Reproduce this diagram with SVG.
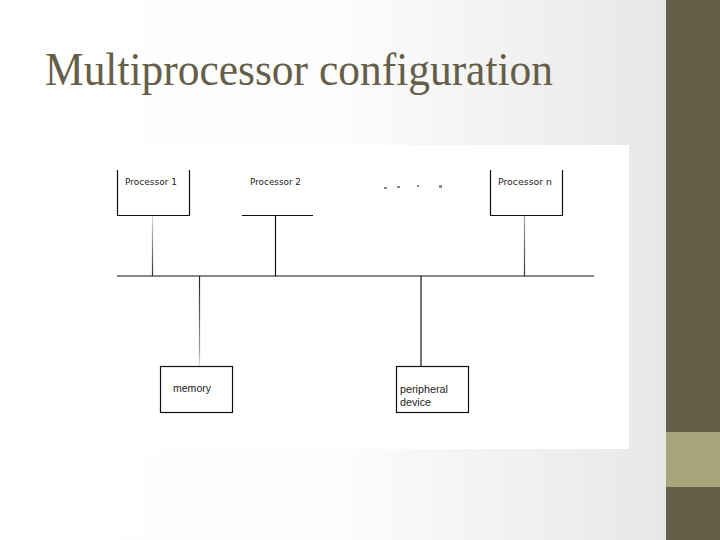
<svg xmlns="http://www.w3.org/2000/svg" width="720" height="540" viewBox="0 0 720 540">
  <defs>
    <linearGradient id="bg" x1="0" y1="0" x2="666" y2="0" gradientUnits="userSpaceOnUse">
      <stop offset="0" stop-color="#ffffff"/>
      <stop offset="0.5" stop-color="#fdfdfd"/>
      <stop offset="1" stop-color="#e7e7e7"/>
    </linearGradient>
    <linearGradient id="fade1" x1="0" y1="215" x2="0" y2="275" gradientUnits="userSpaceOnUse">
      <stop offset="0" stop-color="#dddddd"/>
      <stop offset="1" stop-color="#333333"/>
    </linearGradient>
    <linearGradient id="fadeM" x1="0" y1="276" x2="0" y2="366" gradientUnits="userSpaceOnUse">
      <stop offset="0" stop-color="#222222"/>
      <stop offset="0.8" stop-color="#999999"/>
      <stop offset="1" stop-color="#dddddd"/>
    </linearGradient>
    <linearGradient id="fadeN" x1="0" y1="215" x2="0" y2="276" gradientUnits="userSpaceOnUse">
      <stop offset="0" stop-color="#aaaaaa"/>
      <stop offset="1" stop-color="#333333"/>
    </linearGradient>
  </defs>
  <style>
    .box { fill: #ffffff; stroke: #111111; stroke-width: 1.2; }
    .ln { stroke: #111111; stroke-width: 1.2; fill: none; }
    .lbl { font-family: "DejaVu Sans", "Liberation Sans", sans-serif; font-size: 9px; fill: #222222; }
    .lbl2 { font-family: "Liberation Sans", Arial, sans-serif; font-size: 10.5px; fill: #222222; }
    .dot { fill: #888888; }
  </style>
  <rect x="0" y="0" width="720" height="540" fill="url(#bg)"/>
  <rect x="666" y="0" width="54" height="540" fill="#655e48"/>
  <rect x="666" y="432" width="54" height="55" fill="#a8a57d"/>
  <text x="45" y="85" font-family="'Liberation Serif', 'Times New Roman', serif" font-size="47" fill="#655e48" textLength="508" lengthAdjust="spacingAndGlyphs">Multiprocessor configuration</text>
  <rect x="108" y="145" width="521" height="304" fill="#ffffff"/>

  <g id="connectors">
    <line class="ln" x1="117" y1="276" x2="594" y2="276"/>
    <line x1="152.5" y1="215" x2="152.5" y2="276" stroke="url(#fade1)" stroke-width="1.2"/>
    <line class="ln" x1="275.5" y1="215" x2="275.5" y2="276"/>
    <line x1="524.5" y1="215" x2="524.5" y2="276" stroke="url(#fadeN)" stroke-width="1.2"/>
    <line x1="199.5" y1="276" x2="199.5" y2="367" stroke="url(#fadeM)" stroke-width="1.2"/>
    <line class="ln" x1="421" y1="276" x2="421" y2="367"/>
  </g>

  <g id="processor1">
    <path class="ln" d="M117.5 170 V215.5 H189.5 V170"/>
    <text class="lbl" x="125" y="185" textLength="52" lengthAdjust="spacingAndGlyphs">Processor 1</text>
  </g>
  <g id="processor2">
    <line class="ln" x1="242" y1="215.5" x2="313" y2="215.5"/>
    <text class="lbl" x="250" y="185" textLength="51" lengthAdjust="spacingAndGlyphs">Processor 2</text>
  </g>
  <g id="ellipsis">
    <rect class="dot" x="384" y="187" width="3" height="2"/>
    <rect class="dot" x="397" y="186" width="3" height="2"/>
    <rect class="dot" x="417" y="185" width="2" height="2"/>
    <rect class="dot" x="439" y="185" width="3" height="3"/>
  </g>
  <g id="processorN">
    <path class="ln" d="M490.5 170 V215.5 H562.5 V170"/>
    <text class="lbl" x="498" y="185" textLength="54" lengthAdjust="spacingAndGlyphs">Processor n</text>
  </g>
  <g id="memory">
    <rect class="box" x="160.5" y="366.5" width="72" height="46"/>
    <text class="lbl2" x="173" y="392" textLength="38" lengthAdjust="spacingAndGlyphs">memory</text>
  </g>
  <g id="peripheral">
    <rect class="box" x="396.5" y="366.5" width="72" height="46"/>
    <text class="lbl2" x="400" y="393" textLength="48" lengthAdjust="spacingAndGlyphs">peripheral</text>
    <text class="lbl2" x="400" y="406" textLength="31" lengthAdjust="spacingAndGlyphs">device</text>
  </g>
</svg>
